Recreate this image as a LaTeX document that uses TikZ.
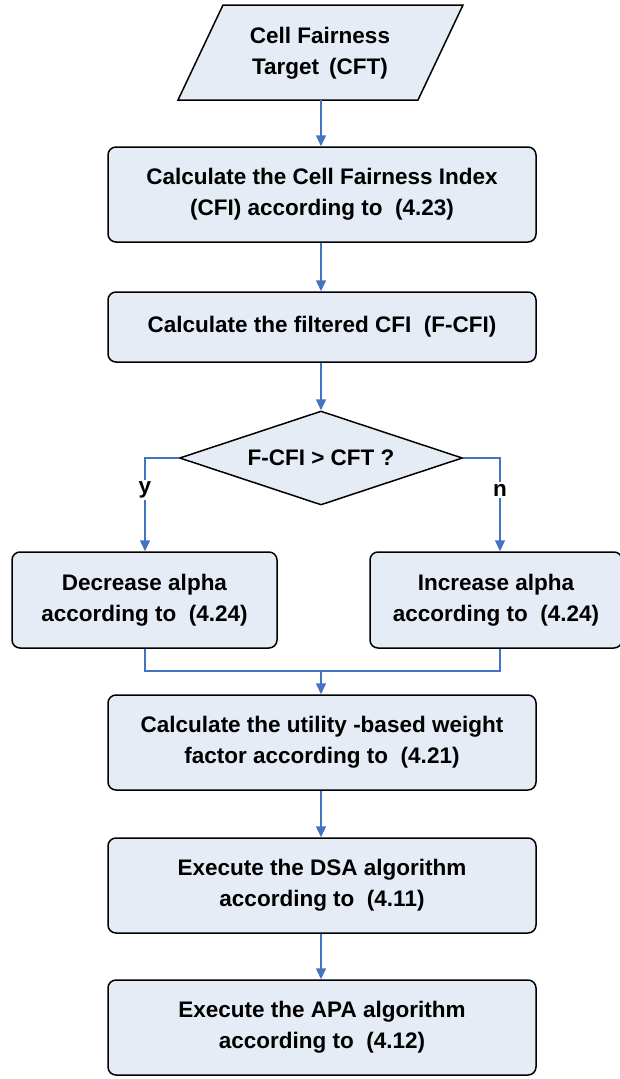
\documentclass[tikz,border=0pt]{standalone}
\usepackage{fontspec}
\setmainfont{Liberation Sans}
\usetikzlibrary{arrows.meta,shapes.geometric}
\definecolor{boxfill}{HTML}{E6ECF6}
\definecolor{arrowblue}{HTML}{4472C4}
\begin{document}
\begin{tikzpicture}[x=1pt,y=-1pt,
  txt/.style={align=center,font=\fontsize{22.5}{31}\selectfont\bfseries},
  stepbox/.style={txt,draw=black,line width=1.5pt,fill=boxfill,rounded corners=8pt,inner sep=0pt},
  conn/.style={draw=arrowblue,line width=1.5pt},
  arr/.style={conn,-{Triangle[width=10pt,length=11pt]}},
  lbl/.style={font=\fontsize{22.5}{24}\selectfont\bfseries,fill=white,inner sep=2pt}]
\useasboundingbox (0,0) rectangle (620,1079);
% parallelogram input
\draw[line width=1.5pt,fill=boxfill] (223,5) -- (463,5) -- (418,100) -- (178,100) -- cycle;
\node[txt] (cft) at (320,53) {Cell Fairness\\Target \,(CFT)};
\coordinate (cftb) at (321,100);
\node[stepbox,minimum width=428pt,minimum height=95pt] (cfi) at (322,194.5) {Calculate the Cell Fairness Index\\(CFI) according to \ (4.23)};
\node[stepbox,minimum width=428pt,minimum height=70pt] (fcfi) at (322,327) {Calculate the filtered CFI \ (F-CFI)};
\node[diamond,draw=black,line width=1.5pt,fill=boxfill,minimum width=283pt,minimum height=94pt,inner sep=0pt,aspect=3,
  font=\fontsize{22.5}{24}\selectfont\bfseries] (dec) at (321,458) {F-CFI > CFT ?};
\node[stepbox,minimum width=265pt,minimum height=96pt] (dec-a) at (144.5,600) {Decrease alpha\\according to \ (4.24)};
\node[stepbox,minimum width=252pt,minimum height=96pt] (inc-a) at (496,600) {Increase alpha\\according to \ (4.24)};
\node[stepbox,minimum width=428pt,minimum height=95pt] (util) at (322,742.5) {Calculate the utility -based weight\\factor according to \ (4.21)};
\node[stepbox,minimum width=428pt,minimum height=95pt] (dsa) at (322,885.5) {Execute the DSA algorithm\\according to \ (4.11)};
\node[stepbox,minimum width=428pt,minimum height=95pt] (apa) at (322,1027.5) {Execute the APA algorithm\\according to \ (4.12)};
% connectors
\draw[arr] (cftb) -- (cfi.north -| cftb);
\draw[arr] (cfi.south -| cftb) -- (fcfi.north -| cftb);
\draw[arr] (fcfi.south -| dec.north) -- (dec.north);
\coordinate (yc) at (145,458);
\coordinate (nc) at (500,458);
\draw[arr] (dec.west) -- (yc) -- (yc |- dec-a.north);
\draw[arr] (dec.east) -- (nc) -- (nc |- inc-a.north);
\node[lbl] (ylbl) at (145,490) {y};
\node[lbl] (nlbl) at (500,490) {n};
\coordinate (merge) at (321,671);
\draw[conn] (yc |- dec-a.south) -- (yc |- merge) -- (nc |- merge) -- (nc |- inc-a.south);
\draw[arr] (merge) -- (merge |- util.north);
\draw[arr] (util.south -| merge) -- (dsa.north -| merge);
\draw[arr] (dsa.south -| merge) -- (apa.north -| merge);
\end{tikzpicture}
\end{document}
